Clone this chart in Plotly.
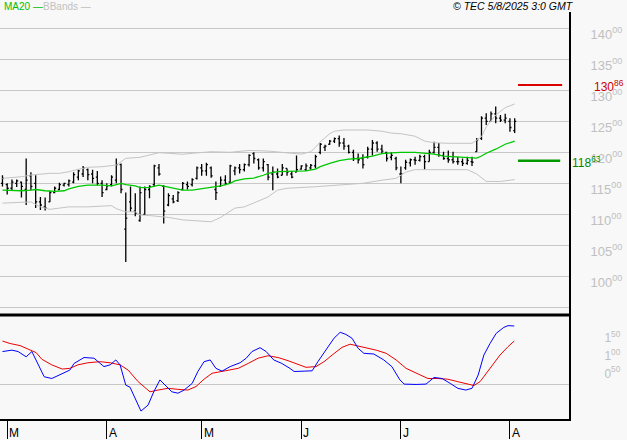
import plotly.graph_objects as go

# ---------------- data ----------------
opens = [115.0,114.8,114.2,115.0,115.2,114.0,116.2,115.0,112.0,111.2,112.0,113.5,114.0,114.7,114.8,115.2,116.0,116.5,117.2,116.5,
         116.0,115.0,114.0,114.8,115.5,118.0,107.6,112.0,110.5,109.0,110.0,114.0,114.8,117.5,114.5,111.5,112.5,112.2,114.0,114.8,
         114.8,115.8,117.5,117.0,117.5,114.0,114.5,115.5,115.2,117.0,117.5,117.2,118.0,119.8,118.8,117.5,118.0,116.5,116.5,116.3,
         117.4,116.5,116.8,117.3,117.2,117.5,117.8,120.0,120.8,121.3,121.8,122.2,121.5,121.0,120.0,119.0,119.0,119.2,120.5,121.5,
         120.5,120.0,119.2,119.0,116.5,117.5,118.3,118.8,118.7,119.3,118.5,120.0,120.8,119.5,119.0,118.8,118.5,118.5,118.2,118.5,
         120.1,122.3,125.5,125.0,126.2,125.5,125.2,125.0,123.5]
highs = [116.3,115.0,115.6,115.6,115.3,119.0,116.8,116.3,112.8,112.7,113.8,114.5,115.1,115.1,115.6,116.8,117.2,117.8,117.4,117.2,
         117.0,115.5,115.0,116.3,119.0,118.2,113.5,114.5,113.4,114.5,114.5,114.7,118.0,118.1,114.7,113.4,113.1,113.7,115.2,115.3,
         115.8,117.7,118.1,118.3,117.7,115.3,116.1,116.3,118.0,117.7,118.1,118.2,119.7,120.0,119.0,119.0,118.1,117.7,117.4,118.1,
         117.4,117.0,119.5,117.9,118.2,118.1,119.6,121.5,121.2,122.0,122.4,122.7,122.3,121.2,120.4,119.8,119.7,120.9,122.0,121.8,
         121.2,120.1,120.0,119.3,117.7,118.8,119.0,119.3,119.6,119.6,120.4,121.7,121.5,120.1,120.3,120.1,119.3,119.0,119.3,119.3,
         122.3,125.8,126.3,126.6,127.4,126.0,126.2,125.5,125.5]
lows = [114.5,113.2,113.9,114.4,112.7,111.5,113.9,111.0,110.7,110.6,112.0,113.4,113.9,114.5,114.5,115.0,115.5,116.0,115.5,115.0,
        114.7,112.8,113.9,114.5,115.0,113.4,102.3,110.4,109.7,108.8,109.9,112.6,114.5,116.2,108.5,111.3,111.8,112.0,113.9,114.0,
        114.5,115.6,116.2,116.2,115.9,112.3,114.5,114.7,115.0,116.3,116.6,116.9,117.7,118.2,117.2,116.9,115.5,113.9,115.8,116.3,
        116.2,115.8,116.8,117.2,117.0,117.2,117.4,119.7,120.2,121.2,121.5,120.9,120.4,119.8,118.6,118.2,117.4,119.0,119.5,120.1,
        119.8,118.5,118.7,117.1,115.0,117.2,117.7,118.0,118.5,117.2,118.5,119.8,119.3,118.8,118.3,118.2,118.0,117.8,118.0,117.8,
        120.1,122.0,124.4,125.0,124.7,124.9,124.7,123.3,123.1]
closes = [115.8,114.2,115.2,115.4,114.5,115.5,114.5,112.0,111.5,111.0,113.5,114.2,114.8,115.0,115.4,116.4,117.0,117.5,116.4,115.8,
          115.0,113.5,114.6,116.0,118.0,114.0,109.4,111.0,110.2,113.5,114.0,114.5,117.8,116.5,110.5,113.0,112.0,113.5,115.0,114.5,
          115.6,117.5,117.0,118.0,116.2,113.5,115.5,115.0,117.8,117.5,117.2,118.0,119.5,119.0,117.5,118.5,116.0,116.8,116.0,117.5,
          116.8,116.0,117.2,117.8,117.8,117.9,119.3,121.3,121.0,121.8,122.2,121.5,121.0,120.0,119.0,118.8,118.0,120.5,121.5,120.5,
          120.2,119.0,119.5,117.5,116.5,118.4,118.8,118.7,119.3,118.5,120.0,120.8,119.5,119.0,118.8,118.5,118.5,118.2,118.7,118.4,
          122.0,125.5,125.0,126.2,125.5,125.2,125.5,124.0,125.0]
bar_idx = list(range(len(closes)))

ma20_idx = [0,2,4,6,7,9,11,13,14,16,18,21,23,24,25,26,28,29,31,33,35,38,40,42,44,46,48,49,51,53,55,56,58,61,63,64,66,67,69,
            71,73,75,78,80,82,84,87,89,91,93,95,97,99,100,101,102,104,106,108]
ma20_val = [113.9,113.8,113.8,113.9,114.0,113.8,113.7,113.8,114.1,114.5,114.7,114.7,114.6,114.8,115.0,114.8,114.6,114.3,114.35,
            114.7,114.35,113.9,113.9,114.1,114.3,114.6,115.0,115.4,115.7,115.85,116.3,116.6,116.9,117.0,117.0,117.0,117.3,117.7,
            118.2,118.65,118.9,119.0,119.4,119.8,119.9,120.0,120.0,119.85,119.7,119.4,119.3,119.2,119.05,119.05,119.4,119.85,
            120.5,121.3,121.8]

bbu_idx = [0,4,6,10,12,14,16,18,21,23,24,25,26,29,31,33,35,38,40,42,44,48,52,56,60,63,65,66,67,69,70,72,77,80,82,84,87,89,
           91,94,99,101,102,104,106,108]
bbu_val = [115.8,116.06,116.34,116.61,116.61,116.87,117.26,117.58,117.68,117.79,117.95,118.49,119.03,119.19,119.56,119.94,
           119.84,119.68,119.84,120.0,120.1,120.0,120.3,120.2,119.9,119.7,120.1,120.8,121.7,123.0,123.4,123.6,123.6,123.4,123.1,
           123.0,122.6,121.8,121.55,121.45,121.45,122.5,124.1,126.0,127.2,127.8]

bbl_idx = [0,4,6,8,10,12,14,18,21,23,24,25,26,28,29,31,33,35,38,40,42,44,46,49,51,54,56,58,60,66,70,76,80,83,85,87,98,100,
           102,105,108]
bbl_val = [111.8,112.0,112.0,111.2,110.8,111.0,111.2,111.2,111.3,111.4,110.9,110.6,110.4,110.4,109.9,109.8,109.7,109.5,109.1,
           109.0,108.9,108.8,109.5,111.0,111.2,112.2,112.8,113.9,114.2,114.45,114.7,115.0,115.5,115.8,116.8,117.2,117.2,116.5,
           115.3,115.3,115.6]

macd_idx = [0.0,2.0,3.3,5.0,6.2,7.5,8.8,10.4,12.1,14.2,15.1,17.2,19.3,20.1,21.4,22.7,23.9,24.8,26.0,26.9,28.2,29.2,30.7,31.9,
            33.2,34.5,35.7,37.0,38.3,40.0,41.2,42.5,43.8,45.0,46.3,48.0,50.1,51.4,52.6,54.3,55.6,57.2,58.9,60.6,61.5,63.6,65.3,
            66.5,68.2,69.9,71.2,72.4,73.7,75.0,76.2,78.3,80.4,82.1,83.8,84.7,87.2,89.3,91.0,92.7,94.4,96.0,97.7,99.0,100.3,101.5,
            102.8,104.1,105.7,106.6,107.9]
macd_val = [0.95,0.99,0.95,0.80,0.95,0.61,0.23,0.18,0.28,0.42,0.61,0.78,0.76,0.66,0.52,0.57,0.71,0.57,-0.01,-0.07,-0.43,-0.75,
            -0.58,-0.20,0.14,-0.05,-0.20,-0.24,-0.15,0.04,0.38,0.66,0.71,0.47,0.39,0.52,0.63,0.76,0.95,1.06,0.95,0.71,0.61,0.47,
            0.38,0.39,0.40,0.66,0.99,1.33,1.50,1.44,1.33,1.04,0.90,0.88,0.71,0.52,0.14,0.02,0.01,0.02,0.21,0.18,0.04,-0.10,-0.15,
            -0.10,0.28,0.85,1.18,1.47,1.64,1.69,1.68]

signal_idx = [0.0,1.6,3.7,5.8,7.1,8.3,10.4,12.6,14.2,15.9,18.0,20.6,22.7,24.8,26.5,28.6,31.1,32.8,34.9,37.0,39.1,40.8,42.5,44.2,
              46.7,49.7,51.8,53.9,56.0,58.1,60.2,62.3,64.0,66.1,67.8,69.5,71.6,73.3,75.0,76.7,78.8,80.9,83.0,85.1,87.6,89.7,91.8,
              93.9,96.0,98.2,99.4,100.7,102.8,104.9,106.6,107.9]
signal_val = [1.25,1.18,1.12,1.01,0.92,0.73,0.57,0.45,0.47,0.57,0.63,0.66,0.63,0.57,0.42,0.09,-0.20,-0.15,-0.10,-0.13,-0.15,-0.05,
              0.16,0.33,0.39,0.47,0.61,0.76,0.83,0.78,0.69,0.58,0.50,0.52,0.66,0.85,1.07,1.16,1.11,1.04,0.99,0.90,0.71,0.47,0.30,
              0.18,0.18,0.16,0.09,0.01,-0.02,0.09,0.47,0.85,1.09,1.25]

resistance = 130.86
support = 118.63

month_ticks = [1, 22, 42, 63, 84, 107]
month_labels = ["M", "A", "M", "J", "J", "A"]

price_ticks = [95, 100, 105, 110, 115, 120, 125, 130, 135, 140]
price_ticktext = [""] + ["%d<sup>00</sup>" % v for v in price_ticks[1:]]
macd_ticks = [0.5, 1.0, 1.5]
macd_ticktext = ["0<sup>50</sup>", "1<sup>00</sup>", "1<sup>50</sup>"]

# ---------------- figure ----------------
FONT = "Liberation Sans, Arial, sans-serif"
BG = "#f8f8f8"
GRID = "#c8c8c8"
split = 104 / 407.0

fig = go.Figure()

fig.add_trace(go.Scatter(x=bbu_idx, y=bbu_val, mode="lines", line=dict(color="#c4c4c4", width=1),
                         hoverinfo="skip", xaxis="x", yaxis="y"))
fig.add_trace(go.Scatter(x=bbl_idx, y=bbl_val, mode="lines", line=dict(color="#c4c4c4", width=1),
                         hoverinfo="skip", xaxis="x", yaxis="y"))
fig.add_trace(go.Scatter(x=ma20_idx, y=ma20_val, mode="lines", line=dict(color="#00c800", width=1.3),
                         hoverinfo="skip", xaxis="x", yaxis="y"))
fig.add_trace(go.Ohlc(x=bar_idx, open=opens, high=highs, low=lows, close=closes,
                      increasing=dict(line=dict(color="black", width=1.3)),
                      decreasing=dict(line=dict(color="black", width=1.3)),
                      tickwidth=0.32, hoverinfo="skip", xaxis="x", yaxis="y"))
fig.add_trace(go.Scatter(x=[108.7, 118.0], y=[resistance, resistance], mode="lines",
                         line=dict(color="#dd0000", width=2), hoverinfo="skip", xaxis="x", yaxis="y"))
fig.add_trace(go.Scatter(x=[108.7, 117.6], y=[support, support], mode="lines",
                         line=dict(color="#009900", width=2.5), hoverinfo="skip", xaxis="x", yaxis="y"))

fig.add_trace(go.Scatter(x=signal_idx, y=signal_val, mode="lines", line=dict(color="#ee0000", width=1),
                         hoverinfo="skip", xaxis="x", yaxis="y2"))
fig.add_trace(go.Scatter(x=macd_idx, y=macd_val, mode="lines", line=dict(color="#0000ff", width=1),
                         hoverinfo="skip", xaxis="x", yaxis="y2"))

annotations = []
for t, lab in zip(month_ticks, month_labels):
    annotations.append(dict(x=t, xref="x", y=0, yref="paper", text=lab, showarrow=False,
                            xanchor="left", yanchor="top", xshift=0, yshift=-5,
                            font=dict(family=FONT, size=12, color="black")))
annotations += [
    dict(x=2 / 569, xref="paper", y=1, yref="paper", text="MA20 \u2014", showarrow=False,
         xanchor="left", yanchor="middle", yshift=6, font=dict(family=FONT, size=10, color="#00c000")),
    dict(x=41 / 569, xref="paper", y=1, yref="paper", text="BBands \u2014", showarrow=False,
         xanchor="left", yanchor="middle", yshift=6, font=dict(family=FONT, size=10, color="#c0c0c0")),
    dict(x=576 / 569, xref="paper", y=1, yref="paper", text="<i>\u00a9 TEC 5/8/2025 3:0 GMT</i>", showarrow=False,
         xanchor="right", yanchor="middle", yshift=6, font=dict(family=FONT, size=10.5, color="black")),
    dict(x=592 / 569, xref="paper", y=resistance, yref="y", text="130<sup>86</sup>", showarrow=False,
         xanchor="left", yanchor="middle", yshift=-1, font=dict(family=FONT, size=12, color="#cc0000")),
    dict(x=570 / 569, xref="paper", y=support, yref="y", text="118<sup>63</sup>", showarrow=False,
         xanchor="left", yanchor="middle", yshift=-1, font=dict(family=FONT, size=12, color="#008800")),
]

fig.update_layout(
    width=627, height=440, autosize=False,
    margin=dict(l=0, r=58, t=12, b=21, pad=0),
    paper_bgcolor=BG, plot_bgcolor=BG,
    showlegend=False,
    font=dict(family=FONT),
    xaxis=dict(range=[-0.52, 119.45], anchor="y2", showline=True, linecolor="black", linewidth=2,
               ticks="outside", tickvals=month_ticks, ticklen=18, tickcolor="black", tickwidth=1,
               showticklabels=False, showgrid=False, zeroline=False, rangeslider=dict(visible=False),
               fixedrange=True),
    yaxis=dict(domain=[split, 1], range=[93.76, 142.63], side="right", tickvals=price_ticks,
               ticktext=price_ticktext, showgrid=True, gridcolor=GRID, gridwidth=1, showline=True,
               linecolor="black", linewidth=2, ticks="", zeroline=False, ticklabelshift=6,
               ticklabelstandoff=17, tickfont=dict(family=FONT, size=13, color="#c0c0c0"), fixedrange=True),
    yaxis2=dict(domain=[0, split], range=[-0.977, 1.994], side="right", tickvals=macd_ticks,
                ticktext=macd_ticktext, showgrid=False, zeroline=True, zerolinecolor=GRID, zerolinewidth=1,
                showline=True, linecolor="black", linewidth=2, ticks="", ticklabelshift=6,
                ticklabelstandoff=31, tickfont=dict(family=FONT, size=12, color="#c0c0c0"), fixedrange=True),
    annotations=annotations,
    shapes=[dict(type="line", xref="paper", yref="paper", x0=0, x1=1, y0=split, y1=split,
                 line=dict(color="black", width=3))],
)

fig.write_html("out.html", config={"displayModeBar": False},
               post_script="document.body.style.margin='0px';document.body.style.background='#f8f8f8';")
